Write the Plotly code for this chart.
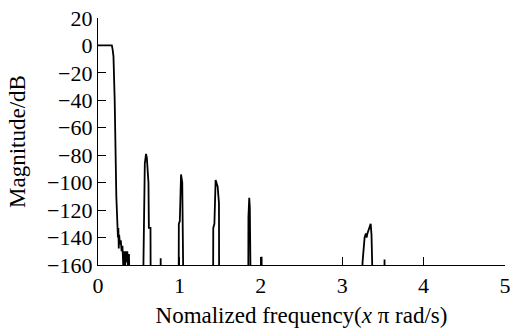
import plotly.graph_objects as go

# Normalized frequency (x pi rad/s) and magnitude (dB)
freq = [0.0, 0.17, 0.18, 0.19, 0.205, 0.215, 0.225, 0.235, 0.24, 0.245, 0.25, 0.255, 0.26,
        0.27, 0.28, 0.29, 0.30, 0.31, 0.32, 0.33, 0.34, 0.35, 0.36, 0.37, 0.38, 0.40,
        0.555, 0.558, 0.565, 0.575, 0.59, 0.60, 0.62, 0.625, 0.645, 0.648,
        0.765, 0.77, 0.775,
        0.99, 0.993, 1.005, 1.012, 1.02, 1.035, 1.041, 1.05, 1.053,
        1.413, 1.416, 1.43, 1.436, 1.445, 1.47, 1.477, 1.486, 1.489,
        1.845, 1.848, 1.852, 1.858, 1.865, 1.872, 1.877, 1.88,
        2.005, 2.01, 2.015,
        3.24, 3.25, 3.265, 3.275, 3.29, 3.30, 3.31, 3.325, 3.35, 3.36, 3.37, 3.38, 3.385,
        3.515, 3.52, 3.525,
        5.0]
mag_db = [0.0, 0.0, -3, -8, -40, -90, -110, -125, -130, -140, -133, -148, -138,
          -145, -142, -150, -146, -160, -150, -165, -150, -158, -150, -165, -152, -200,
          -200, -160, -118, -86, -79, -82, -100, -133, -133, -200,
          -200, -155, -200,
          -200, -130, -128, -95, -94, -100, -118, -120, -200,
          -200, -133, -130, -100, -98, -103, -113, -115, -200,
          -200, -125, -112, -111, -118, -148, -150, -200,
          -200, -154, -200,
          -200, -158, -145, -140, -137, -140, -137, -134, -130, -138, -150, -160, -200,
          -200, -156, -200,
          -200]

x_ticks = [0, 1, 2, 3, 4, 5]
y_ticks = [20, 0, -20, -40, -60, -80, -100, -120, -140, -160]

font_family = "Liberation Serif"

fig = go.Figure()
fig.add_trace(go.Scatter(x=freq, y=mag_db, mode="lines",
                         line=dict(color="black", width=1.8), showlegend=False))

fig.update_layout(
    width=517, height=335,
    margin=dict(l=98, r=6, t=15, b=70),
    paper_bgcolor="white", plot_bgcolor="white",
    font=dict(family=font_family, size=22, color="black"),
)
fig.update_xaxes(
    range=[0, 5], tickvals=x_ticks, ticktext=[str(v) for v in x_ticks],
    showline=True, linecolor="black", linewidth=1.3, mirror=False,
    ticks="inside", ticklen=8, tickcolor="black", tickwidth=1,
    showgrid=False, zeroline=False,
    tickfont=dict(family=font_family, size=22),
    title=dict(text="Nomalized frequency(<i>x</i> π rad/s)", standoff=10,
               font=dict(family=font_family, size=23)),
)
fig.update_yaxes(
    range=[-160, 20], tickvals=y_ticks, ticktext=[str(v).replace("-", "\u2212") for v in y_ticks],
    showline=True, linecolor="black", linewidth=1.3, mirror=False,
    ticks="inside", ticklen=8, tickcolor="black", tickwidth=1,
    showgrid=False, zeroline=False,
    tickfont=dict(family=font_family, size=22),
    title=dict(text="Magnitude/dB", standoff=14,
               font=dict(family=font_family, size=23)),
)

fig.write_html("out.html")
